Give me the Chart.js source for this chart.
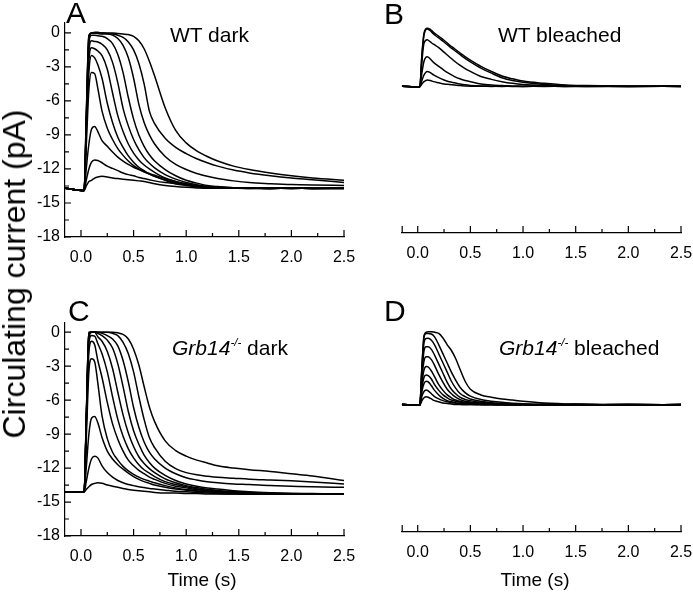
<!DOCTYPE html>
<html>
<head>
<meta charset="utf-8">
<script src="https://cdn.jsdelivr.net/npm/chart.js@4.4.1/dist/chart.umd.min.js"></script>
<style>
  html, body { margin: 0; padding: 0; background: #fff; }
  #wrap { position: relative; width: 693px; height: 597px; overflow: hidden;
          font-family: 'Liberation Sans', Arial, sans-serif; color: #000; }
  #wrap canvas { position: absolute; left: 0; top: 0; }
  .txt { position: absolute; white-space: nowrap; line-height: 1; transform: translateY(-50%); }
  .ctr { transform: translate(-50%, -50%); }
  .letter { font-size: 30px; }
  .title { font-size: 21px; }
  .title sup { font-size: 0.55em; vertical-align: 0; position: relative; top: -0.75em; }
  .xtitle { font-size: 19px; }
  #ytitle { position: absolute; left: 14px; top: 274px; font-size: 32px; line-height: 1;
            white-space: nowrap; transform: translate(-50%, -50%) rotate(-90deg); }
</style>
</head>
<body>
<div id="wrap">
  <canvas id="panelA" width="693" height="597"></canvas>
  <canvas id="panelB" width="693" height="597"></canvas>
  <canvas id="panelC" width="693" height="597"></canvas>
  <canvas id="panelD" width="693" height="597"></canvas>

  <div class="txt letter" style="left:66px; top:13px;">A</div>
  <div class="txt letter" style="left:384px; top:14px;">B</div>
  <div class="txt letter" style="left:68px; top:311px;">C</div>
  <div class="txt letter" style="left:384px; top:311px;">D</div>

  <div class="txt title" style="left:170px; top:34px;">WT dark</div>
  <div class="txt title" style="left:498px; top:34px;">WT bleached</div>
  <div class="txt title" style="left:172px; top:347px;"><i>Grb14<sup>-/-</sup></i> dark</div>
  <div class="txt title" style="left:499px; top:347px;"><i>Grb14<sup>-/-</sup></i> bleached</div>

  <div class="txt xtitle ctr" style="left:202px; top:579px;">Time (s)</div>
  <div class="txt xtitle ctr" style="left:535px; top:579px;">Time (s)</div>

  <div id="ytitle">Circulating current (pA)</div>
</div>

<script>
// time samples (s) for each panel
const timeDark = [-0.15, 0.03, 0.05, 0.075, 0.1, 0.13, 0.16, 0.2, 0.25, 0.3, 0.35, 0.4, 0.45, 0.5, 0.55,
                  0.6, 0.65, 0.7, 0.8, 0.9, 1.0, 1.1, 1.2, 1.3, 1.45, 1.6, 1.8, 2.0, 2.2, 2.5];
const timeWtBleached = [-0.15, 0.02, 0.04, 0.06, 0.09, 0.12, 0.15, 0.2, 0.25, 0.3, 0.35, 0.4, 0.45, 0.5,
                        0.6, 0.7, 0.8, 0.9, 1.0, 1.2, 1.4, 1.6, 2.0, 2.5];
const timeGrbBleached = [-0.15, 0.02, 0.04, 0.06, 0.08, 0.1, 0.13, 0.16, 0.2, 0.24, 0.28, 0.32, 0.36, 0.4,
                         0.45, 0.5, 0.6, 0.7, 0.8, 0.9, 1.0, 1.2, 1.5, 2.0, 2.5];

// circulating current (pA), one row per flash strength
const wtDark = [
  [-13.7, -13.9, -13.5, -13.1, -13.0, -12.8, -12.7, -12.65, -12.7, -12.8, -12.85, -12.9, -12.95, -13.0, -13.05, -13.1, -13.2, -13.3, -13.45, -13.55, -13.62, -13.67, -13.7, -13.7, -13.7, -13.72, -13.7, -13.72, -13.7, -13.72],
  [-13.7, -13.9, -13.0, -12.0, -11.4, -11.2, -11.25, -11.45, -11.75, -11.95, -12.15, -12.35, -12.5, -12.6, -12.75, -12.85, -12.95, -13.05, -13.2, -13.3, -13.4, -13.5, -13.55, -13.6, -13.65, -13.7, -13.7, -13.72, -13.7, -13.72],
  [-13.7, -13.9, -12.0, -9.8, -8.5, -8.25, -8.7, -9.5, -10.0, -10.5, -10.95, -11.3, -11.6, -11.85, -12.05, -12.25, -12.4, -12.55, -12.85, -13.1, -13.3, -13.45, -13.55, -13.62, -13.68, -13.7, -13.72, -13.7, -13.72, -13.7],
  [-13.7, -13.9, -10.0, -5.0, -3.5, -3.6, -4.9, -6.9, -8.4, -9.4, -10.2, -10.8, -11.3, -11.7, -12.0, -12.25, -12.45, -12.65, -12.95, -13.2, -13.4, -13.52, -13.6, -13.65, -13.7, -13.7, -13.72, -13.7, -13.72, -13.7],
  [-13.7, -13.9, -9.0, -3.5, -2.0, -2.2, -2.8, -4.0, -6.2, -7.9, -9.2, -10.1, -10.85, -11.4, -11.85, -12.15, -12.45, -12.65, -13.0, -13.3, -13.45, -13.58, -13.64, -13.67, -13.7, -13.72, -13.7, -13.72, -13.7, -13.72],
  [-13.7, -13.9, -8.5, -2.5, -1.3, -1.4, -1.6, -2.0, -3.2, -5.3, -7.3, -8.7, -9.8, -10.6, -11.2, -11.65, -12.0, -12.3, -12.8, -13.1, -13.35, -13.5, -13.6, -13.65, -13.7, -13.7, -13.72, -13.7, -13.72, -13.7],
  [-13.7, -13.9, -8.2, -1.6, -0.7, -0.75, -0.8, -1.0, -1.5, -2.6, -4.4, -6.65, -8.2, -9.4, -10.3, -11.0, -11.5, -11.9, -12.5, -12.9, -13.2, -13.4, -13.55, -13.62, -13.68, -13.7, -13.72, -13.7, -13.72, -13.7],
  [-13.7, -13.9, -8.0, -0.9, -0.2, -0.2, -0.25, -0.3, -0.5, -0.95, -1.9, -3.5, -5.7, -7.6, -9.0, -10.0, -10.75, -11.3, -12.05, -12.6, -13.0, -13.25, -13.45, -13.55, -13.65, -13.7, -13.72, -13.7, -13.72, -13.7],
  [-13.7, -13.9, -7.8, -0.5, 0, 0, -0.05, -0.1, -0.1, -0.2, -0.5, -1.1, -2.2, -4.0, -6.3, -7.9, -9.0, -9.8, -10.9, -11.6, -12.05, -12.4, -12.65, -12.85, -13.05, -13.2, -13.3, -13.38, -13.42, -13.45],
  [-13.7, -13.9, -7.5, -0.3, 0, 0, 0, 0, -0.05, -0.1, -0.2, -0.4, -0.8, -1.5, -2.7, -4.5, -6.9, -8.0, -9.3, -10.1, -10.65, -11.1, -11.45, -11.75, -12.1, -12.35, -12.6, -12.8, -12.95, -13.2],
  [-13.7, -13.9, -7.3, -0.2, 0, 0.05, 0.05, 0, 0, 0, -0.05, -0.1, -0.15, -0.3, -0.7, -1.4, -2.5, -3.8, -6.6, -8.6, -9.7, -10.4, -10.9, -11.3, -11.75, -12.05, -12.35, -12.6, -12.8, -13.0]
];

const wtBleached = [
  [-4.7, -4.75, -4.5, -4.3, -4.15, -4.2, -4.3, -4.4, -4.5, -4.55, -4.6, -4.65, -4.68, -4.7, -4.7, -4.72, -4.7, -4.72, -4.7, -4.72, -4.7, -4.72, -4.7, -4.72],
  [-4.7, -4.75, -4.2, -3.7, -3.4, -3.5, -3.7, -3.95, -4.15, -4.3, -4.4, -4.5, -4.58, -4.63, -4.68, -4.7, -4.72, -4.7, -4.72, -4.7, -4.72, -4.7, -4.72, -4.7],
  [-4.7, -4.75, -3.5, -2.5, -2.1, -2.3, -2.6, -2.95, -3.3, -3.6, -3.85, -4.05, -4.2, -4.3, -4.5, -4.6, -4.65, -4.7, -4.72, -4.7, -4.72, -4.7, -4.72, -4.7],
  [-4.7, -4.75, -2.5, -0.9, -0.6, -0.8, -1.0, -1.3, -1.7, -2.1, -2.5, -2.85, -3.15, -3.4, -3.85, -4.1, -4.3, -4.45, -4.55, -4.65, -4.7, -4.72, -4.7, -4.72],
  [-4.7, -4.75, -2.0, -0.2, 0.35, 0.2, -0.1, -0.45, -0.8, -1.2, -1.55, -1.9, -2.25, -2.55, -3.1, -3.55, -3.95, -4.2, -4.35, -4.55, -4.65, -4.7, -4.72, -4.7],
  [-4.7, -4.75, -1.9, 0, 0.4, 0.3, 0.05, -0.3, -0.65, -1.05, -1.4, -1.75, -2.1, -2.4, -2.95, -3.4, -3.8, -4.05, -4.25, -4.45, -4.6, -4.65, -4.7, -4.72]
];

const grbDark = [
  [-14.1, -14.1, -13.9, -13.65, -13.45, -13.35, -13.3, -13.35, -13.5, -13.6, -13.7, -13.8, -13.9, -13.95, -14.0, -14.05, -14.1, -14.15, -14.2, -14.2, -14.25, -14.25, -14.3, -14.3, -14.3, -14.32, -14.3, -14.32, -14.3, -14.32],
  [-14.1, -14.1, -13.2, -12.0, -11.2, -10.95, -11.1, -11.8, -12.4, -12.8, -13.1, -13.3, -13.45, -13.55, -13.65, -13.72, -13.8, -13.85, -13.95, -14.05, -14.1, -14.15, -14.2, -14.25, -14.3, -14.3, -14.32, -14.3, -14.32, -14.3],
  [-14.1, -14.1, -12.0, -9.0, -7.6, -7.45, -8.0, -9.3, -10.5, -11.2, -11.7, -12.1, -12.45, -12.75, -13.0, -13.2, -13.35, -13.5, -13.7, -13.85, -13.95, -14.05, -14.1, -14.15, -14.2, -14.25, -14.3, -14.3, -14.32, -14.3],
  [-14.1, -14.1, -9.5, -3.5, -2.35, -2.6, -4.5, -7.4, -9.4, -10.6, -11.3, -11.85, -12.25, -12.55, -12.8, -13.0, -13.15, -13.3, -13.55, -13.75, -13.9, -14.0, -14.1, -14.15, -14.2, -14.25, -14.3, -14.32, -14.3, -14.32],
  [-14.1, -14.1, -8.5, -1.8, -0.8, -1.1, -2.5, -4.0, -6.2, -8.1, -9.45, -10.5, -11.3, -11.8, -12.2, -12.5, -12.8, -13.0, -13.35, -13.6, -13.75, -13.9, -14.0, -14.05, -14.15, -14.2, -14.25, -14.3, -14.32, -14.3],
  [-14.1, -14.1, -8.2, -1.0, -0.3, -0.35, -1.0, -1.9, -3.5, -5.7, -7.7, -9.2, -10.3, -11.1, -11.7, -12.15, -12.45, -12.75, -13.2, -13.45, -13.65, -13.82, -13.95, -14.02, -14.12, -14.2, -14.25, -14.3, -14.3, -14.32],
  [-14.1, -14.1, -8.0, -0.5, 0, 0, -0.4, -0.8, -1.7, -3.2, -5.3, -7.3, -8.9, -10.1, -11.0, -11.6, -12.05, -12.4, -12.95, -13.3, -13.55, -13.72, -13.87, -13.97, -14.08, -14.15, -14.22, -14.27, -14.3, -14.32],
  [-14.1, -14.1, -7.9, -0.3, 0, 0, -0.1, -0.3, -0.7, -1.4, -2.8, -4.8, -7.0, -8.7, -9.9, -10.85, -11.5, -12.0, -12.65, -13.1, -13.4, -13.6, -13.75, -13.85, -14.0, -14.1, -14.18, -14.23, -14.25, -14.3],
  [-14.1, -14.1, -7.8, -0.2, 0, 0, 0, -0.1, -0.3, -0.6, -1.2, -2.5, -4.4, -6.65, -8.4, -9.7, -10.6, -11.2, -12.0, -12.5, -12.85, -13.05, -13.2, -13.3, -13.4, -13.45, -13.55, -13.6, -13.65, -13.7],
  [-14.1, -14.1, -7.6, -0.1, 0, 0, 0, 0, 0, -0.1, -0.3, -0.9, -1.9, -3.5, -5.7, -7.7, -9.3, -10.2, -11.4, -12.05, -12.4, -12.6, -12.72, -12.82, -12.9, -12.98, -13.05, -13.12, -13.22, -13.4],
  [-14.1, -14.1, -7.5, 0, 0.05, 0.05, 0, 0, 0, 0, -0.05, -0.2, -0.6, -1.5, -2.9, -4.8, -6.6, -7.9, -9.6, -10.45, -10.95, -11.3, -11.55, -11.8, -12.0, -12.15, -12.3, -12.5, -12.7, -13.1]
];

const grbBleached = [
  [-6.35, -6.4, -6.0, -5.75, -5.65, -5.7, -5.85, -6.0, -6.1, -6.2, -6.25, -6.3, -6.35, -6.35, -6.37, -6.35, -6.37, -6.35, -6.37, -6.35, -6.37, -6.35, -6.37, -6.35, -6.37],
  [-6.35, -6.4, -5.6, -5.2, -5.07, -5.15, -5.4, -5.65, -5.85, -6.0, -6.1, -6.18, -6.22, -6.26, -6.3, -6.33, -6.35, -6.37, -6.35, -6.37, -6.35, -6.37, -6.35, -6.37, -6.35],
  [-6.35, -6.4, -5.2, -4.5, -4.3, -4.35, -4.7, -5.1, -5.5, -5.8, -6.0, -6.1, -6.18, -6.22, -6.27, -6.3, -6.33, -6.35, -6.37, -6.35, -6.37, -6.35, -6.37, -6.35, -6.37],
  [-6.35, -6.4, -4.9, -3.95, -3.75, -3.8, -4.1, -4.6, -5.1, -5.5, -5.75, -5.95, -6.05, -6.12, -6.2, -6.25, -6.3, -6.33, -6.35, -6.37, -6.35, -6.37, -6.35, -6.37, -6.35],
  [-6.35, -6.4, -4.5, -3.3, -3.0, -3.05, -3.4, -3.9, -4.6, -5.1, -5.5, -5.75, -5.95, -6.05, -6.15, -6.2, -6.27, -6.32, -6.35, -6.37, -6.35, -6.37, -6.35, -6.37, -6.35],
  [-6.35, -6.4, -4.0, -2.5, -2.14, -2.15, -2.4, -2.9, -3.7, -4.4, -5.0, -5.4, -5.7, -5.9, -6.05, -6.12, -6.22, -6.28, -6.32, -6.35, -6.37, -6.35, -6.37, -6.35, -6.37],
  [-6.35, -6.4, -3.6, -1.6, -1.26, -1.26, -1.5, -2.0, -2.8, -3.6, -4.4, -5.0, -5.4, -5.7, -5.9, -6.0, -6.15, -6.25, -6.3, -6.33, -6.35, -6.37, -6.35, -6.37, -6.35],
  [-6.35, -6.4, -3.3, -0.9, -0.55, -0.53, -0.7, -1.1, -1.9, -2.7, -3.5, -4.3, -4.9, -5.35, -5.65, -5.85, -6.05, -6.18, -6.25, -6.3, -6.33, -6.35, -6.37, -6.35, -6.37],
  [-6.35, -6.4, -3.1, -0.4, -0.1, -0.1, -0.15, -0.4, -1.1, -1.9, -2.7, -3.5, -4.2, -4.8, -5.3, -5.6, -5.9, -6.05, -6.15, -6.22, -6.27, -6.32, -6.35, -6.37, -6.35],
  [-6.35, -6.4, -3.0, -0.3, 0, 0.05, 0.05, 0, -0.1, -0.5, -1.1, -1.6, -2.3, -3.2, -4.3, -5.0, -5.5, -5.7, -5.85, -5.95, -6.05, -6.2, -6.3, -6.35, -6.37]
];

// axis ticks
const xMajorTicks = [0, 0.5, 1.0, 1.5, 2.0, 2.5];
const xMinorTicks = [0.25, 0.75, 1.25, 1.75, 2.25];
const yMajorTicks = [-18, -15, -12, -9, -6, -3, 0];
const yMinorTicks = [-16.5, -13.5, -10.5, -7.5, -4.5, -1.5];

const FONT = "'Liberation Sans', Arial, sans-serif";
const PAGE_W = 693, PAGE_H = 597;
const Y_AXIS_W = 60, X_AXIS_H = 40;

// tick marks point into the plot, like the original figure
const inwardTicks = {
  id: 'inwardTicks',
  afterDraw(chart, args, opts) {
    const ctx = chart.ctx;
    const area = chart.chartArea;
    const xs = chart.scales.x, ys = chart.scales.y;
    ctx.save();
    ctx.strokeStyle = '#000';
    ctx.lineWidth = 1.2;
    ctx.beginPath();
    xMajorTicks.forEach(v => {
      const px = xs.getPixelForValue(v);
      ctx.moveTo(px, area.bottom); ctx.lineTo(px, area.bottom - 7);
    });
    xMinorTicks.forEach(v => {
      const px = xs.getPixelForValue(v);
      ctx.moveTo(px, area.bottom); ctx.lineTo(px, area.bottom - 4);
    });
    if (opts.leftCap) {
      ctx.moveTo(area.left + 0.5, area.bottom); ctx.lineTo(area.left + 0.5, area.bottom - 7);
    }
    if (opts.yTicks) {
      yMajorTicks.forEach(v => {
        const py = ys.getPixelForValue(v);
        ctx.moveTo(area.left, py); ctx.lineTo(area.left + 6, py);
      });
      yMinorTicks.forEach(v => {
        const py = ys.getPixelForValue(v);
        ctx.moveTo(area.left, py); ctx.lineTo(area.left + 4, py);
      });
    }
    ctx.stroke();
    ctx.restore();
  }
};

function makePanel(id, times, traces, box) {
  const datasets = traces.map(tr => ({
    data: tr.map((v, i) => ({ x: times[i], y: v })),
    borderColor: '#000',
    borderWidth: 1.5,
    pointRadius: 0,
    fill: false,
    cubicInterpolationMode: 'monotone'
  }));
  const yWidth = box.yAxis ? Y_AXIS_W : 0;

  return new Chart(document.getElementById(id), {
    type: 'line',
    data: { datasets },
    options: {
      responsive: false,
      animation: false,
      events: [],
      layout: {
        padding: {
          left: box.left - yWidth,
          right: PAGE_W - box.right,
          top: box.top,
          bottom: PAGE_H - box.bottom - X_AXIS_H
        }
      },
      plugins: {
        legend: { display: false },
        tooltip: { enabled: false },
        inwardTicks: { yTicks: box.yAxis, leftCap: !box.yAxis }
      },
      scales: {
        x: {
          type: 'linear',
          min: -0.152,
          max: 2.5,
          grid: { display: false, drawTicks: false },
          border: { display: true, color: '#000', width: 1.2 },
          ticks: {
            color: '#000',
            font: { family: FONT, size: 16 },
            padding: 11,
            autoSkip: false,
            maxRotation: 0,
            callback: v => Number(v).toFixed(1)
          },
          afterBuildTicks: s => { s.ticks = xMajorTicks.map(v => ({ value: v })); },
          afterFit: s => { s.height = X_AXIS_H; s.paddingLeft = 0; s.paddingRight = 0; }
        },
        y: {
          type: 'linear',
          display: box.yAxis,
          min: box.yMin,
          max: box.yMax,
          grid: { display: false, drawTicks: false },
          border: { display: true, color: '#000', width: 1.2 },
          ticks: {
            color: '#000',
            font: { family: FONT, size: 16 },
            padding: 5,
            autoSkip: false,
            callback: v => String(v)
          },
          afterBuildTicks: s => { s.ticks = yMajorTicks.map(v => ({ value: v })); },
          afterFit: s => { s.width = yWidth; s.paddingTop = 0; s.paddingBottom = 0; }
        }
      }
    },
    plugins: [inwardTicks]
  });
}

makePanel('panelA', timeDark, wtDark,
  { left: 65, right: 344, top: 22.7, bottom: 237, yMin: -18, yMax: 0.9, yAxis: true });
makePanel('panelB', timeWtBleached, wtBleached,
  { left: 401.7, right: 681, top: 22.7, bottom: 233, yMin: -17.65, yMax: 0.9, yAxis: false });
makePanel('panelC', timeDark, grbDark,
  { left: 65, right: 344, top: 322.7, bottom: 536, yMin: -18, yMax: 0.84, yAxis: true });
makePanel('panelD', timeGrbBleached, grbBleached,
  { left: 401.7, right: 681, top: 322.7, bottom: 532, yMin: -17.53, yMax: 0.84, yAxis: false });
</script>
</body>
</html>
